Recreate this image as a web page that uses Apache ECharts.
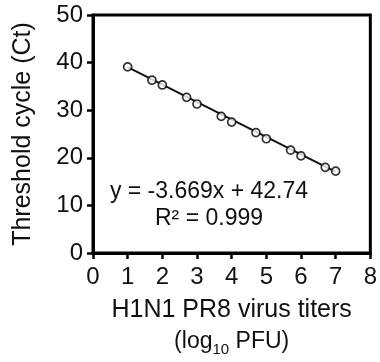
<!DOCTYPE html>
<html><head><meta charset="utf-8">
<script src="https://cdn.jsdelivr.net/npm/echarts@6/dist/echarts.min.js"></script>
<style>html,body{margin:0;padding:0;background:#fff}#c{width:380px;height:362px}</style>
</head><body><div id="c"></div>
<script>
const titers = [1, 1.7, 2, 2.7, 3, 3.7, 4, 4.7, 5, 5.7, 6, 6.7, 7];
const ctValues = [39.1, 36.3, 35.3, 32.7, 31.3, 28.7, 27.5, 25.3, 24.0, 21.6, 20.4, 18.0, 17.2];
const fitX = [1, 7];
const fitY = [39.07, 17.06];
const xTicks = [0, 1, 2, 3, 4, 5, 6, 7, 8];
const yTicks = [0, 10, 20, 30, 40, 50];
const eqLine1 = 'y = -3.669x + 42.74';
const eqLine2 = 'R² = 0.999';

const font = 'Liberation Sans, Arial, sans-serif';
const chart = echarts.init(document.getElementById('c'));
chart.setOption({
  animation: false,
  grid: { left: 93, right: 7, top: 15, bottom: 103, show: true, borderColor: '#000', borderWidth: 3, backgroundColor: 'transparent' },
  xAxis: {
    type: 'value', min: xTicks[0], max: xTicks[xTicks.length - 1], interval: 1,
    axisLine: { lineStyle: { color: '#000', width: 3 } },
    axisTick: { length: 6, lineStyle: { color: '#000', width: 2.5 } },
    splitLine: { show: false },
    axisLabel: { color: '#111', fontSize: 24, fontFamily: font, margin: 12 },
    name: 'H1N1 PR8 virus titers\n{p|(log}{s|10}{p| PFU)}',
    nameLocation: 'middle', nameGap: 42,
    nameTextStyle: { color: '#111', fontSize: 25, fontFamily: font, lineHeight: 31,
      rich: { p: { fontSize: 23, fontFamily: font, color: '#111', lineHeight: 31 },
              s: { fontSize: 15, fontFamily: font, color: '#111', verticalAlign: 'bottom', padding: [12, 0, 0, 0], lineHeight: 31 } } }
  },
  yAxis: {
    type: 'value', min: yTicks[0], max: yTicks[yTicks.length - 1], interval: 10,
    axisLine: { lineStyle: { color: '#000', width: 3 } },
    axisTick: { length: 6, lineStyle: { color: '#000', width: 2.5 } },
    splitLine: { show: false },
    axisLabel: { color: '#111', fontSize: 24, fontFamily: font, margin: 10 },
    name: 'Threshold cycle (Ct)', nameLocation: 'middle', nameGap: 57,
    nameTextStyle: { color: '#111', fontSize: 25, fontFamily: font }
  },
  series: [
    { type: 'line', data: fitX.map((x, i) => [x, fitY[i]]), symbol: 'none',
      lineStyle: { color: '#111', width: 2 }, z: 2 },
    { type: 'scatter', data: titers.map((x, i) => [x, ctValues[i]]), symbol: 'circle', symbolSize: 8,
      itemStyle: { color: '#fff', borderColor: '#000', borderWidth: 1.7 }, z: 3 }
  ],
  graphic: [
    { type: 'text', style: { text: eqLine1, fontSize: 23, fontFamily: font, fill: '#111', textAlign: 'center', textVerticalAlign: 'middle' }, x: 209, y: 192 },
    { type: 'text', style: { text: eqLine2, fontSize: 23, fontFamily: font, fill: '#111', textAlign: 'center', textVerticalAlign: 'middle' }, x: 209, y: 219 }
  ]
});
</script></body></html>
